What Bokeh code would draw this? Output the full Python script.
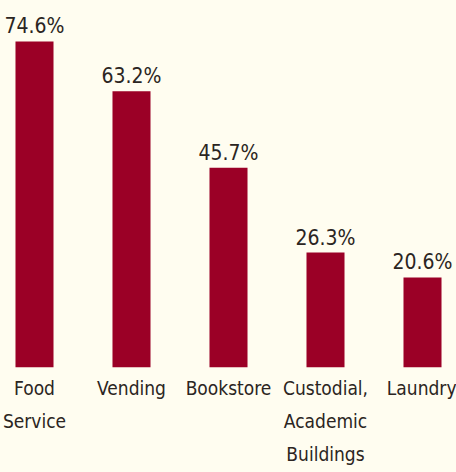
import numpy as np
from bokeh.plotting import figure
from bokeh.models import ColumnDataSource, Range1d, FixedTicker, GlobalInlineStyleSheet, LabelSet
from bokeh.core.properties import value
from bokeh.embed import file_html
from bokeh.resources import INLINE

categories = ["Food\nService", "Vending", "Bookstore", "Custodial,\nAcademic\nBuildings", "Laundry"]
percentages = [74.6, 63.2, 45.7, 26.3, 20.6]

BG = "#FFFDF0"
BAR = "#9B0026"
INK = "#2B2522"
FONT = "DejaVu Sans Condensed"

idx = list(range(len(categories)))
source = ColumnDataSource(dict(x=idx, top=percentages,
                               label=[f"{v}%" for v in percentages]))

p = figure(width=456, height=472, output_backend="svg", toolbar_location=None,
           x_range=Range1d(-0.3505, 4.3505), y_range=Range1d(0, 83.98),
           min_border_left=0, min_border_right=0, min_border_top=0,
           min_border_bottom=105)

p.vbar(x="x", top="top", bottom=0, width=0.392, source=source,
       fill_color=BAR, line_color=None)

labels = LabelSet(x="x", y="top", text="label", source=source,
                  text_align="center", text_baseline="alphabetic", y_offset=8,
                  text_font=value(FONT), text_font_size=value("21px"),
                  text_color=INK)
p.add_layout(labels)

p.xaxis.ticker = FixedTicker(ticks=idx)
p.xaxis.major_label_overrides = {i: c for i, c in enumerate(categories)}
p.xaxis.axis_line_color = None
p.xaxis.major_tick_line_color = None
p.xaxis.minor_tick_line_color = None
p.xaxis.major_label_standoff = 3
p.xaxis.major_label_text_font = FONT
p.xaxis.major_label_text_font_size = "19px"
p.xaxis.major_label_text_color = INK
p.xaxis.major_label_text_line_height = 1.5
p.yaxis.visible = False
p.grid.visible = False
p.outline_line_color = None
p.background_fill_color = BG
p.border_fill_color = BG
p.stylesheets = [GlobalInlineStyleSheet(css=f"body {{ background: {BG}; }}")]

open("out.html", "w").write(file_html(p, INLINE))
